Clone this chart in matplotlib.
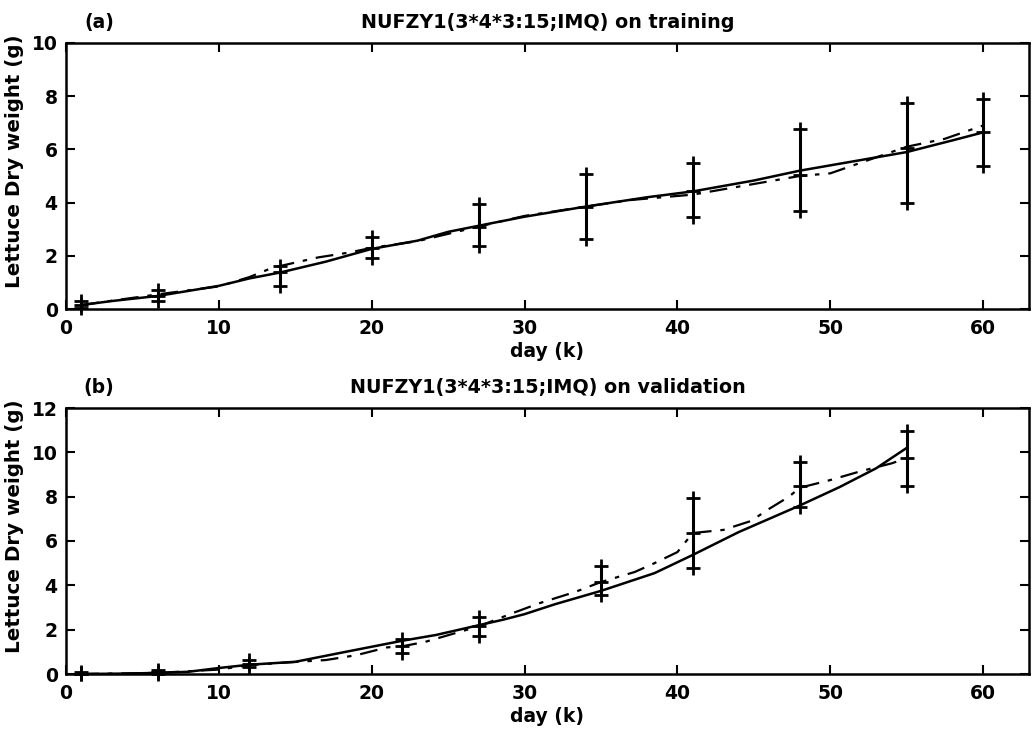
import matplotlib
matplotlib.use("Agg")
import matplotlib.pyplot as plt

# ---------------- data: training (a) ----------------
days_tr = [1, 6, 14, 20, 27, 34, 41, 48, 55, 60]
mean_tr = [0.15, 0.5, 1.38, 2.3, 3.1, 3.85, 4.45, 5.02, 6.07, 6.64]
upper_tr = [0.3, 0.72, 1.62, 2.7, 3.95, 5.08, 5.5, 6.78, 7.75, 7.9]
lower_tr = [0.02, 0.3, 0.85, 1.9, 2.38, 2.64, 3.45, 3.7, 3.98, 5.37]

model_tr_x = [1, 3, 6, 8, 10, 12, 14, 17, 20, 23, 25, 27, 30, 34, 38, 41, 45, 48, 50, 52, 55, 58, 60]
model_tr_y = [0.15, 0.3, 0.49, 0.68, 0.87, 1.15, 1.37, 1.78, 2.26, 2.57, 2.9, 3.13, 3.47, 3.85, 4.2,
              4.42, 4.83, 5.2, 5.4, 5.6, 5.9, 6.34, 6.64]

alt_tr_x = [1, 6, 10, 12, 13.5, 16.5, 18.5, 20, 23, 27, 30, 34, 37, 41, 44.5, 48, 50, 52, 55, 57.5, 60]
alt_tr_y = [0.15, 0.55, 0.85, 1.2, 1.55, 1.94, 2.12, 2.3, 2.55, 3.1, 3.5, 3.85, 4.1, 4.3, 4.65, 5.0,
            5.1, 5.5, 6.1, 6.4, 6.9]

# ---------------- data: validation (b) ----------------
days_va = [1, 6, 12, 22, 27, 35, 41, 48, 55]
mean_va = [0.02, 0.1, 0.45, 1.25, 2.15, 4.15, 6.36, 8.48, 9.74]
upper_va = [0.1, 0.2, 0.62, 1.58, 2.55, 4.85, 7.96, 9.56, 10.96]
lower_va = [0.0, 0.02, 0.3, 0.95, 1.72, 3.55, 4.8, 7.53, 8.48]

model_va_x = [1, 4, 6, 8, 10, 12, 15, 18.3, 20.3, 22, 24.2, 27, 28.6, 30, 32, 35, 38.5, 41, 44, 48,
              50.6, 53, 55]
model_va_y = [0.0, 0.02, 0.05, 0.1, 0.27, 0.42, 0.55, 1.0, 1.27, 1.5, 1.76, 2.2, 2.45, 2.7, 3.15,
              3.75, 4.55, 5.37, 6.4, 7.6, 8.43, 9.28, 10.2]

alt_va_x = [1, 6, 10, 12, 14, 17, 19, 21, 22, 23.5, 25, 27, 29.2, 31, 33.3, 35, 37.2, 38.5, 40, 41,
            43, 44.8, 46, 47.3, 48, 50, 52, 54, 55]
alt_va_y = [0.0, 0.05, 0.2, 0.4, 0.5, 0.63, 0.85, 1.2, 1.25, 1.45, 1.75, 2.15, 2.74, 3.2, 3.7, 4.15,
            4.6, 5.0, 5.5, 6.36, 6.5, 6.9, 7.45, 8.0, 8.4, 8.75, 9.15, 9.5, 9.74]

x_ticks = [0, 10, 20, 30, 40, 50, 60]
y_ticks_tr = [0, 2, 4, 6, 8, 10]
y_ticks_va = [0, 2, 4, 6, 8, 10, 12]

title_tr = "NUFZY1(3*4*3:15;IMQ) on training"
title_va = "NUFZY1(3*4*3:15;IMQ) on validation"

plt.rcParams['font.family'] = ['DejaVu Sans']
plt.rcParams['font.weight'] = 'bold'

W, H = 1032, 732
fig = plt.figure(figsize=(W / 100, H / 100), dpi=100)

def px_axes(left, top, right, bottom):
    return fig.add_axes([left / W, 1 - bottom / H, (right - left) / W, (bottom - top) / H])

ax1 = px_axes(66, 43, 1029, 309)
ax2 = px_axes(66, 408, 1029, 674)

def draw(ax, days, mean, upper, lower, mx, my, ax_x, ax_y, yticks, ylim, title, tag, tag_y):
    ax.plot(mx, my, color='black', lw=1.8, solid_capstyle='round')
    ax.plot(ax_x, ax_y, color='black', lw=1.6, linestyle=(0, (8, 4, 2, 4)))
    ax.vlines(days, lower, upper, color='black', lw=2.2)
    for vals in (upper, mean, lower):
        ax.plot(days, vals, linestyle='none', marker='+', markersize=10, mew=2.0, color='black',
                clip_on=False)
    ax.set_xlim(0, 63)
    ax.set_ylim(*ylim)
    ax.set_xticks(x_ticks)
    ax.set_yticks(yticks)
    ax.tick_params(direction='in', top=True, right=True, length=6.5, width=1.5,
                   labelsize=13.5, pad=6)
    ax.tick_params(axis='x', pad=7)
    for s in ax.spines.values():
        s.set_linewidth(1.8)
    ax.set_xlabel('day (k)', fontsize=13.5, fontweight='bold')
    ax.xaxis.set_label_coords(0.5, -0.125)
    ax.set_ylabel('Lettuce Dry weight (g)', fontsize=14.3, fontweight='bold')
    ax.yaxis.set_label_coords(-0.0436, 0.555)
    ax.set_title(title, fontsize=13.8, pad=11, fontweight='bold')
    fig.text(99 / W, 1 - tag_y / H, tag, fontsize=13.5, ha='center', va='baseline',
             fontweight='bold')

draw(ax1, days_tr, mean_tr, upper_tr, lower_tr, model_tr_x, model_tr_y, alt_tr_x, alt_tr_y,
     y_ticks_tr, (0, 10), title_tr, '(a)', 28)
draw(ax2, days_va, mean_va, upper_va, lower_va, model_va_x, model_va_y, alt_va_x, alt_va_y,
     y_ticks_va, (0, 12), title_va, '(b)', 393)

fig.savefig('out.png', dpi=100)
